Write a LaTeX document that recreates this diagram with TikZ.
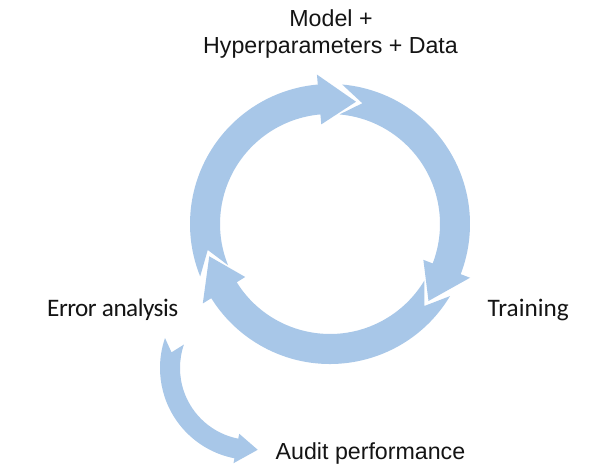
\documentclass[tikz,border=0pt]{standalone}
\usepackage{fontspec}
\setmainfont{Liberation Sans}
\newfontfamily\calfont{Carlito}
\definecolor{arrowblue}{RGB}{168,199,232}
\definecolor{textdark}{RGB}{20,20,20}
\tikzset{
  arrowfill/.style={fill=arrowblue},
  arialtext/.style={inner sep=0pt, text=textdark, font=\fontsize{23.2}{26.7}\selectfont},
  calitext/.style={inner sep=0pt, text=textdark, font=\calfont\fontsize{25.2}{30}\selectfont}
}
% #1 centre, #2 inner r, #3 outer r, #4 wing overhang, #5 tail apex angle,
% #6 tail corner angle, #7 head base angle, #8 tip angle
\newcommand\circarrow[8]{%
  \pgfmathsetmacro\myRm{(#2+#3)/2}%
  \pgfmathsetmacro\myRw{#3+#4}%
  \pgfmathsetmacro\myRv{#2-#4}%
  \fill[arrowfill, shift={#1}] (#6:#3) arc[start angle=#6, end angle=#7, radius=#3]
    -- (#7:\myRw) -- (#8:\myRm) -- (#7:\myRv) -- (#7:#2)
    arc[start angle=#7, end angle=#6, radius=#2] -- (#5:\myRm) -- cycle;}
\begin{document}
\begin{tikzpicture}[x=1pt,y=1pt]
\useasboundingbox[fill=white] (0,0) rectangle (598,470);
% cycle ring
\circarrow{(330,246)}{110}{140}{10}{192}{202}{95}{78}
\circarrow{(330,246)}{110}{140}{10}{75}{85}{-21}{-38}
\circarrow{(330,246)}{110}{140}{10}{-41}{-31}{-148}{-165}
% audit arrow
\circarrow{(252,102)}{72}{92}{5}{169}{161}{259}{274}
% labels
\node[arialtext, anchor=base] (model) at (331,443.3) {Model +};
\node[arialtext, anchor=base] (hyper) at (330.5,416.7) {Hyperparameters + Data};
\node[calitext, anchor=base west] (error) at (47,153.3) {\addfontfeature{LetterSpace=-2}Error analysis};
\node[calitext, anchor=base west] (train) at (487.5,153.3) {Training};
\node[arialtext, anchor=base west] (audit) at (275.5,10) {Audit performance};
\end{tikzpicture}
\end{document}
